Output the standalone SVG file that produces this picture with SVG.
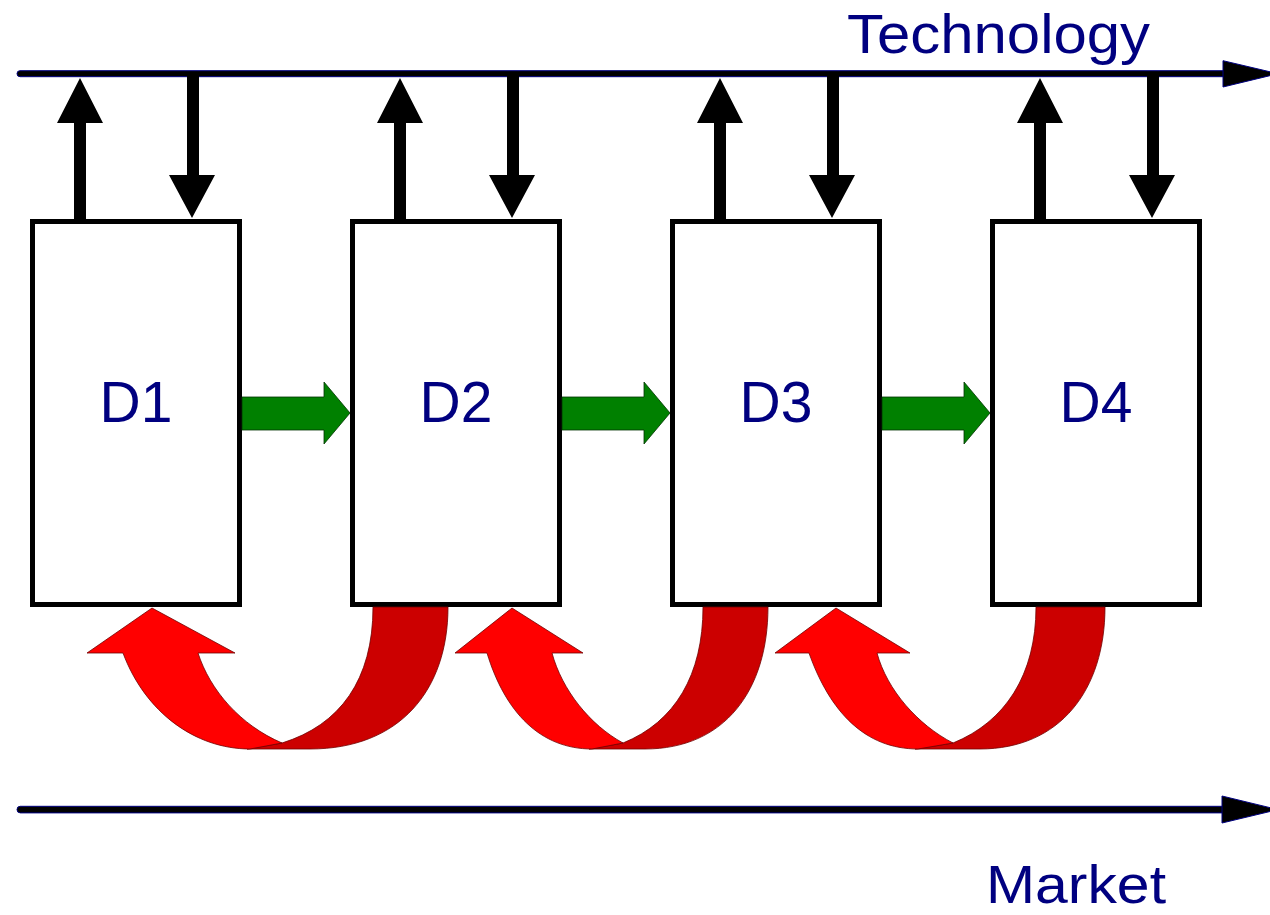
<svg xmlns="http://www.w3.org/2000/svg" width="1270" height="915" viewBox="0 0 1270 915">
<style>
.box{fill:#fff;stroke:#000;stroke-width:5}
.lbl{font-family:"Liberation Sans",Arial,sans-serif;fill:#000080}
.dl{font-size:57px;text-anchor:middle}
.axis{fill:#000;stroke:#000080;stroke-width:1}
.blk{fill:#000}
.grn{fill:#008000;stroke:#003300;stroke-width:0.8}
.rb{fill:#ff0000;stroke:#700000;stroke-width:0.8}
.rd{fill:#cc0000;stroke:#700000;stroke-width:0.8}
</style>
<rect width="1270" height="915" fill="#fff"/>
<g id="technology-axis">
<rect class="axis" x="17" y="70.7" width="1236" height="6" rx="3"/>
<polygon class="axis" points="1223,60.7 1278,73.7 1223,87"/>
<text class="lbl" x="847" y="53" font-size="56" textLength="303" lengthAdjust="spacingAndGlyphs">Technology</text>
</g>
<g id="market-axis">
<rect class="axis" x="17" y="806.3" width="1236" height="6.6" rx="3.3"/>
<polygon class="axis" points="1222,796 1278,809.6 1222,823"/>
<text class="lbl" x="986" y="903" font-size="53" textLength="180" lengthAdjust="spacingAndGlyphs">Market</text>
</g>
<g id="D1"><rect class="box" x="32.5" y="221.5" width="207" height="383"/><text class="lbl dl" x="136" y="422">D1</text></g>
<g id="D2"><rect class="box" x="352.5" y="221.5" width="207" height="383"/><text class="lbl dl" x="456" y="422">D2</text></g>
<g id="D3"><rect class="box" x="672.5" y="221.5" width="207" height="383"/><text class="lbl dl" x="776" y="422">D3</text></g>
<g id="D4"><rect class="box" x="992.5" y="221.5" width="207" height="383"/><text class="lbl dl" x="1096" y="422">D4</text></g>
<g id="connectors">
<g id="tech-arrows">
<path class="blk" d="M74,219 V123 H57 L80,78 L103,123 H86 V219 Z"/>
<path class="blk" d="M187,76 V175 H169 L192,218 L215,175 H199 V76 Z"/>
<path class="blk" d="M394,219 V123 H377 L400,78 L423,123 H406 V219 Z"/>
<path class="blk" d="M507,76 V175 H489 L512,218 L535,175 H519 V76 Z"/>
<path class="blk" d="M714,219 V123 H697 L720,78 L743,123 H726 V219 Z"/>
<path class="blk" d="M827,76 V175 H809 L832,218 L855,175 H839 V76 Z"/>
<path class="blk" d="M1034,219 V123 H1017 L1040,78 L1063,123 H1046 V219 Z"/>
<path class="blk" d="M1147,76 V175 H1129 L1152,218 L1175,175 H1159 V76 Z"/>
</g>
<g id="flow-arrows">
<path class="grn" d="M242,397 H324 V382 L350,413 L324,444 V430 H242 Z"/>
<path class="grn" d="M562,397 H644 V382 L670,413 L644,444 V430 H562 Z"/>
<path class="grn" d="M882,397 H964 V382 L990,413 L964,444 V430 H882 Z"/>
</g>
<g id="feedback-arrows">
<path class="rd" d="M373,607 C373,680 340,725 282,743 L247,749 L310,749 C400,749 448,690 448,607 Z"/>
<path class="rb" d="M87,653 L152,608 L235,653 L198,653 C210,690 240,725 282,743 L250,749 C195,749 145,712 123,653 Z"/>
<path class="rd" d="M703,607 C703,675 675,722 623,743 L589,749 L645,749 C725,749 768,690 768,607 Z"/>
<path class="rb" d="M455,653 L512,608 L583,653 L552,653 C562,690 590,725 623,743 L592,749 C540,749 505,712 487,653 Z"/>
<path class="rd" d="M1036,607 C1036,675 1005,722 953,743 L915,749 L980,749 C1060,749 1105,690 1105,607 Z"/>
<path class="rb" d="M775,653 L836,608 L910,653 L877,653 C887,690 918,725 953,743 L918,749 C865,749 830,712 809,653 Z"/>
</g>
</g>
</svg>
